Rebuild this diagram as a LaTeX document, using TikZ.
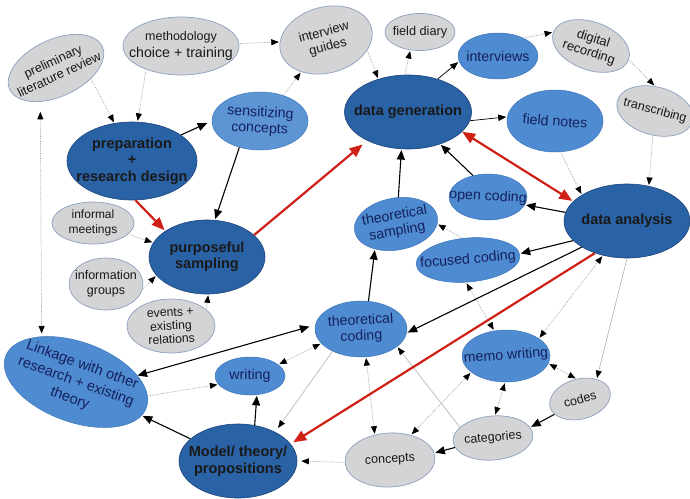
\documentclass[tikz,border=0pt]{standalone}
\usepackage{fontspec}
\setmainfont{Liberation Sans}
\usetikzlibrary{shapes.geometric,arrows.meta}
\definecolor{dkf}{RGB}{42,98,166}
\definecolor{dkb}{RGB}{28,68,122}
\definecolor{mdf}{RGB}{78,139,208}
\definecolor{mdb}{RGB}{62,118,186}
\definecolor{grf}{RGB}{212,212,214}
\definecolor{grb}{RGB}{140,160,192}
\definecolor{navy}{RGB}{22,32,95}
\definecolor{arred}{RGB}{208,32,22}
\tikzset{
  dtip/.tip={Triangle[length=7.5pt,width=6pt,black]},
  stip/.tip={Triangle[length=9.5pt,width=8pt]},
  rtip/.tip={Triangle[length=13pt,width=10.5pt]},
  dk/.style={ellipse, draw=dkb, fill=dkf, line width=.6pt, inner sep=0},
  md/.style={ellipse, draw=mdb, fill=mdf, line width=.5pt, inner sep=0},
  gr/.style={ellipse, draw=grb, fill=grf, line width=.7pt, inner sep=0},
  tdk/.style={font=\fontsize{14.5}{16.5}\selectfont\bfseries, align=center, text=black!90, inner sep=0},
  tmd/.style={font=\fontsize{14.2}{16}\selectfont, align=center, text=navy, inner sep=0},
  tgr/.style={font=\fontsize{12.5}{14.5}\selectfont, align=center, text=black!90, inner sep=0},
  dotl/.style={draw=gray!75, densely dotted, line width=.7pt, -dtip, shorten >=1pt, shorten <=1pt},
  dotb/.style={dotl, dtip-dtip},
  thn/.style={draw=gray!60, line width=.6pt, -dtip, shorten >=1pt},
  sol/.style={draw=black, line width=1.1pt, -stip, shorten >=1pt},
  solb/.style={sol, stip-stip},
  solt/.style={draw=black, line width=.7pt, -{Triangle[length=8pt,width=6.5pt]}, shorten >=1pt},
  redarr/.style={draw=arred, line width=2.2pt, -rtip, shorten >=1pt},
  redb/.style={redarr, rtip-rtip}
}
\begin{document}
\begin{tikzpicture}[x=1pt,y=-1pt]
\useasboundingbox[fill=white] (0,0) rectangle (690,498);
% ---------- shapes ----------
\node[gr, rotate=25, minimum width=102, minimum height=57] (lit) at (56,68) {};
\node[gr, minimum width=116, minimum height=58] (meth) at (181,46) {};
\node[gr, rotate=15, minimum width=94, minimum height=66] (ig) at (326,40) {};
\node[gr, minimum width=70, minimum height=37] (fd) at (420,32) {};
\node[md, minimum width=80, minimum height=46] (iv) at (498,56) {};
\node[gr, rotate=-20, minimum width=80, minimum height=48] (dr) at (591,46) {};
\node[gr, rotate=-15, minimum width=78, minimum height=48] (tr) at (655,111) {};
\node[dk, minimum width=127, minimum height=74] (dg) at (408,112) {};
\node[md, minimum width=96, minimum height=62] (fn) at (555,121) {};
\node[dk, minimum width=130, minimum height=78] (prep) at (132,161) {};
\node[md, fill=mdf!92!white, minimum width=96, minimum height=58] (sens) at (260,121) {};
\node[gr, minimum width=82, minimum height=42] (inf) at (93,223) {};
\node[dk, minimum width=116, minimum height=74] (purp) at (207,257) {};
\node[gr, minimum width=74, minimum height=52] (igrp) at (106,284) {};
\node[gr, minimum width=88, minimum height=54] (ev) at (171,326) {};
\node[md, rotate=-20, minimum width=150, minimum height=80] (lk) at (76,382) {};
\node[md, minimum width=70, minimum height=38] (wr) at (250,376) {};
\node[dk, minimum width=118, minimum height=74] (mod) at (238,461) {};
\node[md, minimum width=92, minimum height=56] (tc) at (361,329) {};
\node[md, rotate=10, minimum width=84, minimum height=52] (ts) at (396,224) {};
\node[md, minimum width=78, minimum height=46] (oc) at (488,197) {};
\node[md, rotate=5, minimum width=104, minimum height=44] (fc) at (468,260) {};
\node[dk, minimum width=126, minimum height=74] (da) at (627,221) {};
\node[md, minimum width=88, minimum height=52] (mw) at (506,356) {};
\node[gr, rotate=15, minimum width=62, minimum height=40] (cd) at (580,399) {};
\node[gr, rotate=5, minimum width=80, minimum height=44] (cat) at (493,438) {};
\node[gr, rotate=3, minimum width=90, minimum height=54] (con) at (390,460) {};
% ---------- texts ----------
\node[tgr, rotate=25, font=\fontsize{12.8}{14.5}\selectfont] (litt) at (lit) {preliminary\\literature review};
\node[tgr, font=\fontsize{12.5}{17}\selectfont] (metht) at (meth) {methodology\\{\fontsize{14.2}{16}\selectfont choice + training}};
\node[tgr, rotate=15, font=\fontsize{13}{15}\selectfont] (igt) at (ig) {interview\\guides};
\node[tgr, font=\fontsize{12.7}{14}\selectfont] (fdt) at (fd) {field diary};
\node[tmd] (ivt) at (iv) {interviews};
\node[tgr, rotate=-18, font=\fontsize{13}{14.5}\selectfont] (drt) at (dr) {digital\\recording};
\node[tgr, rotate=-15] (trt) at (tr) {transcribing};
\node[tdk] (dgt) at (dg) {data generation};
\node[tmd, rotate=-4] (fnt) at (fn) {field notes};
\node[tdk] (prept) at (prep) {preparation\\+\\research design};
\node[tmd, rotate=-3] (senst) at (sens) {sensitizing\\concepts};
\node[tgr, font=\fontsize{12}{15}\selectfont] (inft) at (inf) {informal\\meetings};
\node[tdk] (purpt) at (purp) {purposeful\\sampling};
\node[tgr, font=\fontsize{12.5}{15}\selectfont] (igrpt) at (igrp) {information\\groups};
\node[tgr, rotate=3, font=\fontsize{12.3}{13.5}\selectfont] (evt) at (ev) {events +\\existing\\relations};
\node[tmd, rotate=-20, font=\fontsize{14.5}{18}\selectfont] (lkt) at (lk) {Linkage with other\\research + existing\\theory};
\node[tmd] (wrt) at (wr) {writing};
\node[tdk] (modt) at (mod) {Model/ theory/\\propositions};
\node[tmd, rotate=3] (tct) at (tc) {theoretical\\coding};
\node[tmd, rotate=10] (tst) at (ts) {theoretical\\sampling};
\node[tmd, rotate=-3] (oct) at (oc) {open coding};
\node[tmd, rotate=5] (fct) at (fc) {focused coding};
\node[tdk] (dat) at (da) {data analysis};
\node[tmd, rotate=4] (mwt) at (mw) {memo writing};
\node[tgr, rotate=15] (cdt) at (cd) {codes};
\node[tgr, rotate=5] (catt) at (cat) {categories};
\node[tgr, rotate=3] (cont) at (con) {concepts};
% ---------- dotted connectors ----------
\draw[dotl] (lit.-42) -- (prep.115);
\draw[dotl] (meth.-146) -- (prep.82);
\draw[dotl] (meth) -- (ig);
\draw[dotl] (sens.48) -- (ig);
\draw[dotl] (ig.-29) -- (dg.132);
\draw[dotl] (dg.95) -- (fd.-118);
\draw[dotl] (iv.35) -- (dr.180);
\draw[dotl] (dr.east) -- (tr.105);
\draw[dotl] (tr.-80) -- (da.58);
\draw[dotl] (fn.-80) -- (da.150);
\draw[dotb, shorten <=10pt, shorten >=3pt] (lit.-140) -- (lk.147);
\draw[dotl] (inf) -- (purp.165);
\draw[dotl] (igrp.-8) -- (purp.-160);
\draw[dotl] (ev.25) -- (purp.-88);
\draw[dotl] (fc.100) -- (ts.-10);
\draw[dotb] (fc.-100) -- (mw.115);
\draw[dotb] (da.-125) -- (mw.28);
\draw[dotb] (mw.-10) -- (cd.85);
\draw[dotb] (mw.-92) -- (cat.80);
\draw[dotb] (mw.-155) -- (con.47);
\draw[dotb] (tc.-80) -- (con.118);
\draw[dotl, shorten >=4pt] (con.180) -- (mod.0);
\draw[dotl] (lk.9) -- (wr.195);
\draw[dotb] (wr.22) -- (tc.-160);
% ---------- thin grey connectors ----------
\draw[thn] (da.-90) -- (cd.35);
\draw[thn] (cat.157) -- (tc.-26);
\draw[thn, shorten >=5pt] (tc.-142) -- (mod.38);
% ---------- black connectors ----------
\draw[solt] (dg.48) -- (iv.-172);
\draw[solt] (dg.-8) -- (fn.175);
\draw[sol, shorten >=5pt] (prep.28) -- (sens.180);
\draw[sol] (sens.-128) -- (purp.78);
\draw[sol] (ts.75) -- (dg.-100);
\draw[sol] (oc.125) -- (dg.-45);
\draw[sol] (da.172) -- (oc.-12);
\draw[sol] (da.-160) -- (fc.2);
\draw[sol] (da.-150) -- (tc.-5);
\draw[sol] (tc.75) -- (ts.-140);
\draw[solb, shorten >=6pt] (lk.26) -- (tc.175);
\draw[sol] (mod.65) -- (wr.-70);
\draw[sol] (mod.155) -- (lk.-7);
\draw[sol] (cd.-164) -- (cat.11);
\draw[sol] (cat.-171) -- (con.6);
% ---------- red connectors ----------
\draw[redarr] (prep.-85) -- (purp.148);
\draw[redarr, shorten >=6pt] (purp.25) -- (dg.-145);
\draw[redb] (dg.-20) -- (da.160);
\draw[redarr, shorten >=3pt] (da.-135) -- (mod.18);
\end{tikzpicture}
\end{document}
